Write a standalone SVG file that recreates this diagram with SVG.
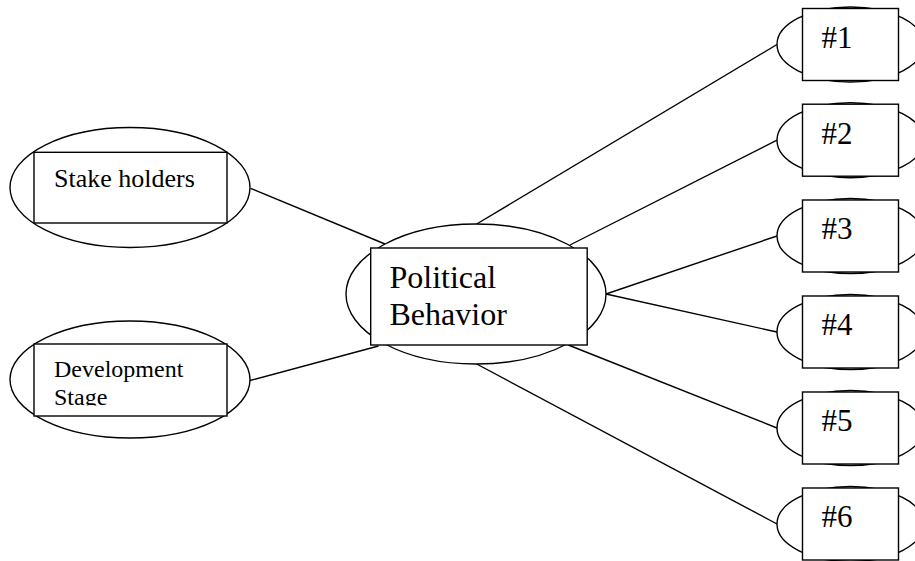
<svg xmlns="http://www.w3.org/2000/svg" width="915" height="561" viewBox="0 0 915 561">
<style>
.s{fill:#fff;stroke:#000;stroke-width:1.4}
.c line{stroke:#000;stroke-width:1.4}
text{font-family:"Liberation Serif","Times New Roman",serif;fill:#000}
.sm{font-size:26px}
.dv{font-size:24px}
.pb{font-size:32px}
.nm{font-size:31px}
</style>
<defs>
<clipPath id="devclip"><rect x="34" y="344" width="193" height="61.5"/></clipPath>
</defs>
<rect width="915" height="561" fill="#fff"/>
<g class="c" id="connectors">
<line x1="250.5" y1="188.3" x2="385" y2="244"/>
<line x1="250" y1="380.5" x2="378.5" y2="346"/>
<line x1="476.7" y1="224" x2="777" y2="44.5"/>
<line x1="570" y1="245" x2="777" y2="140.2"/>
<line x1="606" y1="294" x2="777" y2="236"/>
<line x1="606" y1="294" x2="777" y2="332"/>
<line x1="568.3" y1="345" x2="777" y2="428"/>
<line x1="476.7" y1="364" x2="777" y2="524"/>
</g>
<g id="stakeholders">
<ellipse class="s" cx="130" cy="187.5" rx="120" ry="60"/>
<rect class="s" x="34" y="152.3" width="193" height="70.7"/>
<text class="sm" x="54" y="186.7">Stake holders</text>
</g>
<g id="development">
<ellipse class="s" cx="130" cy="379.5" rx="120" ry="58.5"/>
<rect class="s" x="34" y="344" width="193" height="72"/>
<text class="dv" clip-path="url(#devclip)"><tspan x="54" y="377.3">Development</tspan><tspan x="54" y="404.5">Stage</tspan></text>
</g>
<g id="political">
<ellipse class="s" cx="476" cy="294" rx="130" ry="70"/>
<rect class="s" x="370.7" y="248" width="216.5" height="97"/>
<text class="pb"><tspan x="389.5" y="287.7">Political</tspan><tspan x="389.5" y="325">Behavior</tspan></text>
</g>
<g id="n1">
<ellipse class="s" cx="850.5" cy="44.5" rx="73.5" ry="37.5"/>
<rect class="s" x="802.5" y="8.5" width="96" height="72"/>
<text class="nm" x="821.5" y="47.8">#1</text>
</g>
<g id="n2">
<ellipse class="s" cx="850.5" cy="140.2" rx="73.5" ry="37.5"/>
<rect class="s" x="802.5" y="104.2" width="96" height="72"/>
<text class="nm" x="821.5" y="143.5">#2</text>
</g>
<g id="n3">
<ellipse class="s" cx="850.5" cy="236" rx="73.5" ry="37.5"/>
<rect class="s" x="802.5" y="200" width="96" height="72"/>
<text class="nm" x="821.5" y="239.3">#3</text>
</g>
<g id="n4">
<ellipse class="s" cx="850.5" cy="332" rx="73.5" ry="37.5"/>
<rect class="s" x="802.5" y="296" width="96" height="72"/>
<text class="nm" x="821.5" y="335.3">#4</text>
</g>
<g id="n5">
<ellipse class="s" cx="850.5" cy="428" rx="73.5" ry="37.5"/>
<rect class="s" x="802.5" y="392" width="96" height="72"/>
<text class="nm" x="821.5" y="431.3">#5</text>
</g>
<g id="n6">
<ellipse class="s" cx="850.5" cy="524" rx="73.5" ry="37.5"/>
<rect class="s" x="802.5" y="488" width="96" height="72"/>
<text class="nm" x="821.5" y="527.3">#6</text>
</g>
</svg>
